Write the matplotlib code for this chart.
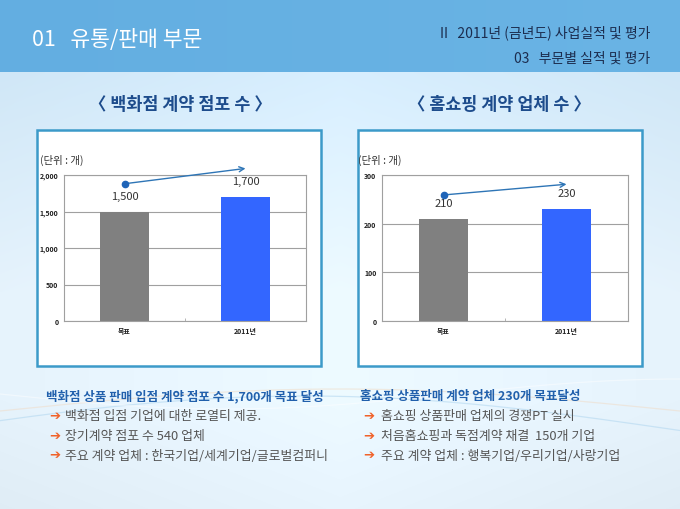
import numpy as np
import matplotlib
matplotlib.use("Agg")
import matplotlib.pyplot as plt
from matplotlib.patches import Rectangle

plt.rcParams['font.family'] = ['Noto Sans CJK KR', 'DejaVu Sans']

# ---------------- data ----------------
categories = ['목표', '2011년']
dept_values = [1500, 1700]
dept_labels = ['1,500', '1,700']
dept_trend = [1880, 2090]
dept_yticks = [0, 500, 1000, 1500, 2000]
dept_yticklabels = ['0', '500', '1,000', '1,500', '2,000']

home_values = [210, 230]
home_labels = ['210', '230']
home_trend = [259, 281]
home_yticks = [0, 100, 200, 300]
home_yticklabels = ['0', '100', '200', '300']

bar_colors = ['#808080', '#3366ff']

header_title = '01   유통/판매 부문'
header_right1 = 'II   2011년 (금년도) 사업실적 및 평가'
header_right2 = '03   부문별 실적 및 평가'
sub_left = '〈 백화점 계약 점포 수 〉'
sub_right = '〈 홈쇼핑 계약 업체 수 〉'
unit_label = '(단위 : 개)'

left_heading = '백화점 상품 판매 입점 계약 점포 수 1,700개 목표 달성'
left_bullets = ['백화점 입점 기업에 대한 로열티 제공.',
                '장기계약 점포 수 540 업체',
                '주요 계약 업체 : 한국기업/세계기업/글로벌컴퍼니']
right_heading = '홈쇼핑 상품판매 계약 업체 230개 목표달성'
right_bullets = ['홈쇼핑 상품판매 업체의 경쟁PT 실시',
                 '처음홈쇼핑과 독점계약 채결  150개 기업',
                 '주요 계약 업체 : 행복기업/우리기업/사랑기업']

W, H = 680, 510
fig = plt.figure(figsize=(W / 100, H / 100), dpi=100)

def fx(x):
    return x / W

def fy(y):
    return 1 - y / H

# ---------------- background ----------------
bg = fig.add_axes([0, 0, 1, 1])
bg.set_xlim(0, W)
bg.set_ylim(H, 0)
bg.axis('off')
yy, xx = np.mgrid[0:H, 0:W]
img = np.zeros((H, W, 3))
top_c = np.array([208, 231, 247]) / 255
mid_c = np.array([230, 243, 252]) / 255
t = np.clip((yy - 73) / 220.0, 0, 1)
horiz = 1 - np.abs(xx - W / 2) / (W / 2)
base = top_c * (1 - t[..., None]) + mid_c * t[..., None]
base = base + (0.03 * horiz)[..., None] - 0.025 * np.clip((yy - 400) / 110, 0, 1)[..., None]
img[:] = np.clip(base, 0, 1)
band = np.array([99, 174, 225]) / 255
band_r = np.array([106, 180, 229]) / 255
fr = xx / W
band_img = band * (1 - fr[..., None]) + band_r * fr[..., None]
mask = yy < 73
img[mask] = band_img[mask]
bg.imshow(img, extent=[0, W, H, 0], aspect='auto', zorder=0)

# decorative swooshes (subtle)
xs = np.linspace(0, W, 300)
bg.plot(xs, 412 - 22 * np.sin(xs / W * np.pi), color='#f0dcc8', alpha=0.55, lw=0.9, zorder=1)
bg.plot(xs, 432 - 35 * np.sin(xs / W * np.pi * 0.9 + 0.3), color='#b4d8f0', alpha=0.6, lw=0.9, zorder=1)
bg.plot(xs, 395 + 15 * np.sin(xs / W * np.pi * 1.5), color='white', alpha=0.45, lw=0.9, zorder=1)

# header texts
fig.text(fx(32), fy(40), header_title, color='white', fontsize=15.5, va='center', ha='left')
fig.text(fx(650), fy(33), header_right1, color='#1c2d4f', fontsize=10, va='center', ha='right')
fig.text(fx(650), fy(59), header_right2, color='#1c2d4f', fontsize=10, va='center', ha='right')
fig.text(fx(180), fy(105), sub_left, color='#1d4c8c', fontsize=12.5, fontweight='bold', va='center', ha='center')
fig.text(fx(499), fy(105), sub_right, color='#1d4c8c', fontsize=12.5, fontweight='bold', va='center', ha='center')

# panel boxes
for (x0, x1) in [(37, 321), (358, 642)]:
    fig.patches.append(Rectangle((fx(x0), fy(367)), fx(x1 - x0), (367 - 131) / H,
                                 transform=fig.transFigure, facecolor='white',
                                 edgecolor='#3c9ac9', lw=1.8, zorder=2))


def draw_chart(x0, x1, values, labels, trend, yticks, yticklabels, unit_x):
    ax = fig.add_axes([fx(x0), fy(322), fx(x1 - x0), (322 - 176) / H], zorder=3)
    ax.set_facecolor('white')
    xpos = np.arange(len(categories))
    ax.bar(xpos, values, width=0.4, color=bar_colors, zorder=2)
    ax.set_xlim(-0.5, len(categories) - 0.5)
    ax.set_ylim(yticks[0], yticks[-1])
    ax.set_yticks(yticks)
    ax.set_yticklabels(yticklabels, fontsize=5, fontweight='bold', color='#222222')
    ax.set_xticks(xpos)
    ax.set_xticklabels(categories, fontsize=5, fontweight='bold', color='#222222')
    ax.tick_params(axis='both', length=0, pad=4)
    ax.set_xticks([0.5], minor=True)
    ax.tick_params(axis='x', which='minor', length=2, direction='in', color='#aaaaaa')
    ax.yaxis.grid(True, color='#a0a0a0', lw=0.8, zorder=1)
    for s in ax.spines.values():
        s.set_color('#a0a0a0')
        s.set_linewidth(0.8)
    for xi, v, lab in zip(xpos, values, labels):
        ax.annotate(lab, (xi, v), xytext=(0, 11.5), textcoords='offset points',
                    ha='center', va='center', fontsize=8, color='#333333')
    ax.annotate('', xy=(xpos[1], trend[1]), xytext=(xpos[0], trend[0]),
                arrowprops=dict(arrowstyle='->', color='#2e75b6', lw=1.0,
                                shrinkA=0, shrinkB=0, mutation_scale=9),
                annotation_clip=False)
    ax.plot([xpos[0]], [trend[0]], 'o', color='#1f64b8', ms=4.5, clip_on=False, zorder=5)
    fig.text(fx(unit_x), fy(160), unit_label, fontsize=7.5, color='#333333', va='center', ha='left', zorder=4)
    return ax


draw_chart(64, 306, dept_values, dept_labels, dept_trend, dept_yticks, dept_yticklabels, 40)
draw_chart(382, 628, home_values, home_labels, home_trend, home_yticks, home_yticklabels, 358)

# bottom texts
def draw_block(x_head, x_arrow, x_text, heading, bullets):
    fig.text(fx(x_head), fy(397), heading, fontsize=9, fontweight='bold', color='#2160ac', va='center', ha='left')
    for i, b in enumerate(bullets):
        y = 417 + i * 19.5
        fig.text(fx(x_arrow), fy(y), '➔', fontsize=9.5, fontweight='bold', color='#f0622a',
                 va='center', ha='left', family=['DejaVu Sans'])
        fig.text(fx(x_text), fy(y), b, fontsize=9.3, color='#555555', va='center', ha='left')


draw_block(46, 49, 65, left_heading, left_bullets)
draw_block(360, 363, 381, right_heading, right_bullets)

fig.savefig('out.png', dpi=100)
